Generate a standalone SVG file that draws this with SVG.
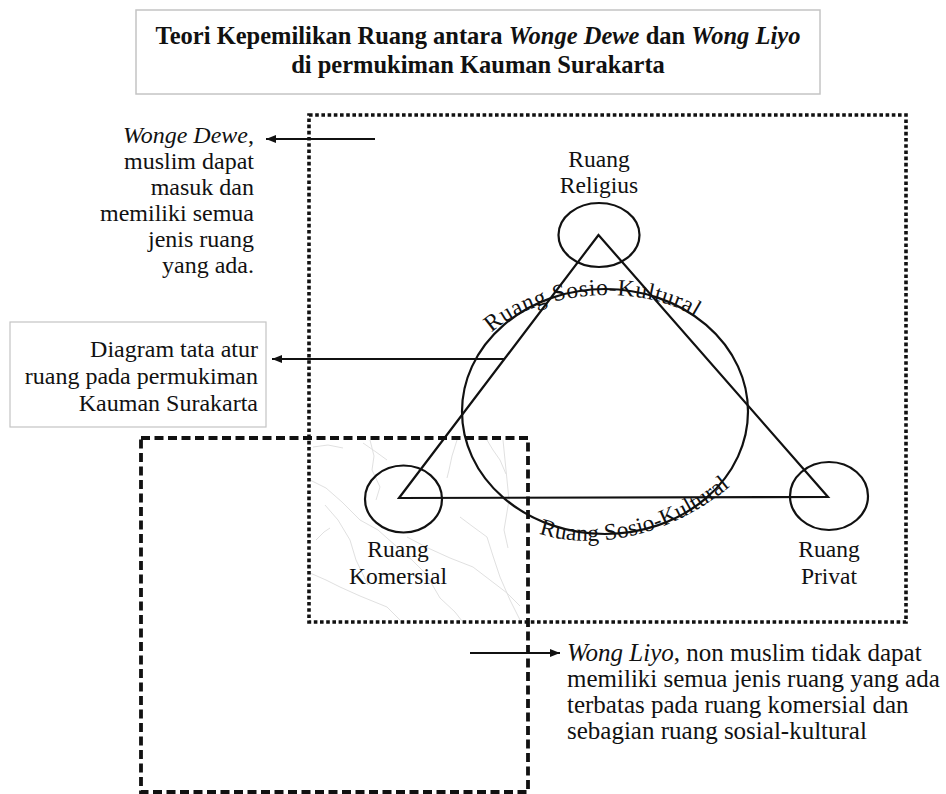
<svg xmlns="http://www.w3.org/2000/svg" width="946" height="794" viewBox="0 0 946 794">
  <style>
    .serif { font-family: "Liberation Serif", "Times New Roman", serif; fill: #111; }
    .body { font-size: 24px; }
    .end { text-anchor: end; }
    .title { font-size: 24.5px; font-weight: bold; text-anchor: middle; }
    .lbl { font-size: 23.5px; text-anchor: middle; }
    .arc { font-size: 23.5px; }
    .it { font-style: italic; }
    .frame { fill: #fff; stroke: #c4c4c4; stroke-width: 1.5; }
    .shape { fill: none; stroke: #111; stroke-width: 2.2; }
    .dotted { fill: none; stroke: #111; stroke-width: 3.6; stroke-dasharray: 3.6 2.6; }
    .dashed { fill: none; stroke: #111; stroke-width: 3.8; stroke-dasharray: 9 4.5; }
    .texture { fill: none; stroke: #dcdcdc; stroke-width: 0.9; }
    .conn { stroke: #111; stroke-width: 2; fill: none; }
  </style>
  <defs>
    <marker id="arrow" viewBox="0 0 10 8" refX="10" refY="4" markerWidth="10" markerHeight="8" markerUnits="userSpaceOnUse" orient="auto">
      <path d="M0,0 L10,4 L0,8 z" fill="#111"/>
    </marker>
    <path id="arcTop" d="M476,351 C520,282 670,277 717,336"/>
    <path id="arcBottom" d="M525,528 C570,550 660,550 740,478"/>
  </defs>

  <rect width="946" height="794" fill="#fff"/>

  <!-- title -->
  <g id="title">
    <rect class="frame" x="136" y="10" width="684" height="84"/>
    <text class="serif title" x="478" y="44">Teori Kepemilikan Ruang antara <tspan class="it">Wonge Dewe</tspan> dan <tspan class="it">Wong Liyo</tspan></text>
    <text class="serif title" x="478" y="73">di permukiman Kauman Surakarta</text>
  </g>

  <!-- faint map lines in the overlap zone -->
  <g id="map-texture">
    <path class="texture" d="M310,480 L326,488 L342,502 L360,520 L378,530 L396,546 L412,560 L426,574 L440,598 L455,612 L462,621"/>
    <path class="texture" d="M370,440 L374,456 L372,470 L380,487 L376,500"/>
    <path class="texture" d="M457,440 L452,456 L449,470 L447,478"/>
    <path class="texture" d="M460,517 L472,526 L487,537 L493,556 L500,577 L510,600 L520,620"/>
    <path class="texture" d="M487,440 L493,450 L500,460 L506,474"/>
    <path class="texture" d="M407,537 L428,548 L450,558 L473,567 L490,580 L507,593 L520,606"/>
    <path class="texture" d="M310,573 L326,580 L340,587 L360,596 L387,607 L400,620"/>
    <path class="texture" d="M316,540 L324,532 L330,528"/>
    <path class="texture" d="M313,447 L328,445 L343,448"/>
    <path class="texture" d="M363,443 L376,452 L387,460"/>
    <path class="texture" d="M503,440 L506,470 L509,500 L504,530 L508,548"/>
    <path class="texture" d="M325,505 L338,520 L350,540 L356,560 L368,585"/>
  </g>

  <!-- regions -->
  <g id="region-wonge-dewe">
    <rect class="dotted" x="309" y="115" width="597" height="507"/>
  </g>
  <g id="region-wong-liyo">
    <rect class="dashed" x="141" y="438" width="387" height="354"/>
  </g>

  <!-- space-arrangement diagram -->
  <g id="sosio-kultural">
    <ellipse class="shape" cx="605" cy="411.5" rx="143" ry="122.5"/>
    <text class="serif arc"><textPath href="#arcTop" startOffset="24" textLength="216" lengthAdjust="spacing">Ruang Sosio-Kultural</textPath></text>
    <text class="serif arc"><textPath href="#arcBottom" startOffset="15" textLength="205" lengthAdjust="spacing">Ruang Sosio-Kultural</textPath></text>
  </g>
  <g id="religius">
    <ellipse class="shape" cx="599" cy="235" rx="40.5" ry="32"/>
    <text class="serif lbl" x="599" y="167">Ruang</text>
    <text class="serif lbl" x="599" y="193">Religius</text>
  </g>
  <g id="komersial">
    <ellipse class="shape" cx="403.5" cy="499" rx="38.5" ry="33.5"/>
    <text class="serif lbl" x="398" y="557">Ruang</text>
    <text class="serif lbl" x="398" y="584">Komersial</text>
  </g>
  <g id="privat">
    <ellipse class="shape" cx="829" cy="496" rx="39" ry="34"/>
    <text class="serif lbl" x="829" y="557">Ruang</text>
    <text class="serif lbl" x="829" y="584">Privat</text>
  </g>
  <g id="triangle">
    <polygon class="shape" points="598.5,235 399,498 828,497"/>
  </g>

  <!-- notes -->
  <g id="note-wonge-dewe">
    <text class="serif body end" x="254" y="143"><tspan class="it">Wonge Dewe</tspan>,</text>
    <text class="serif body end" x="254" y="169">muslim dapat</text>
    <text class="serif body end" x="254" y="195">masuk dan</text>
    <text class="serif body end" x="254" y="221">memiliki semua</text>
    <text class="serif body end" x="254" y="247">jenis ruang</text>
    <text class="serif body end" x="254" y="273">yang ada.</text>
  </g>
  <g id="note-diagram">
    <rect class="frame" x="10" y="322" width="256" height="105" style="stroke-width:1.2"/>
    <text class="serif body end" x="258" y="357">Diagram tata atur</text>
    <text class="serif body end" x="258" y="384">ruang pada permukiman</text>
    <text class="serif body end" x="258" y="411">Kauman Surakarta</text>
  </g>
  <g id="note-wong-liyo">
    <text class="serif body" style="font-size:25px" x="567" y="661"><tspan class="it">Wong Liyo</tspan>, non muslim tidak dapat</text>
    <text class="serif body" style="font-size:25px" x="567" y="687">memiliki semua jenis ruang yang ada</text>
    <text class="serif body" style="font-size:25px" x="567" y="713">terbatas pada ruang komersial dan</text>
    <text class="serif body" style="font-size:25px" x="567" y="739">sebagian ruang sosial-kultural</text>
  </g>

  <!-- connectors -->
  <g id="connectors">
    <line class="conn" x1="375" y1="139" x2="266" y2="139" marker-end="url(#arrow)"/>
    <line class="conn" x1="505" y1="359" x2="272" y2="359" marker-end="url(#arrow)"/>
    <line class="conn" x1="470" y1="653" x2="560" y2="653" marker-end="url(#arrow)"/>
  </g>
</svg>
